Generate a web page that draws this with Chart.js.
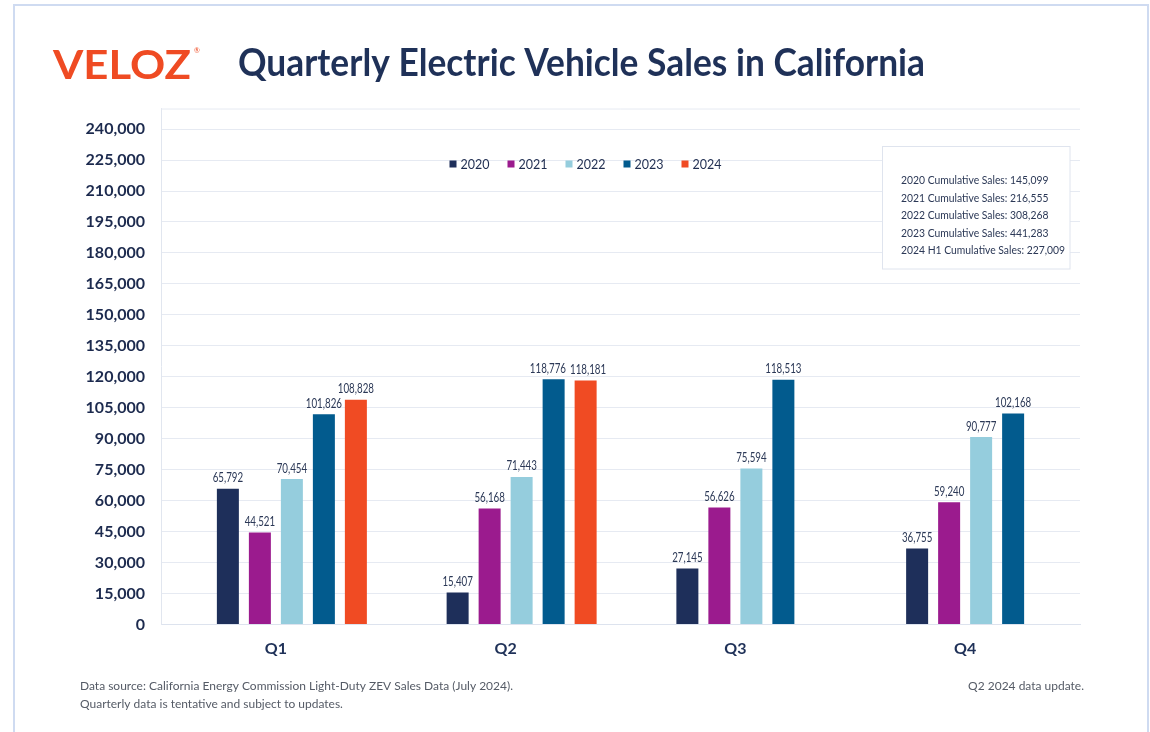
<!DOCTYPE html>
<html><head><meta charset="utf-8">
<script src="https://cdn.jsdelivr.net/npm/chart.js@4.4.1/dist/chart.umd.min.js"></script>
<style>
html,body{margin:0;padding:0;background:#fff;width:1150px;height:732px;overflow:hidden;}
#frame{position:absolute;left:13px;top:4px;width:1136px;height:780px;border:2px solid #cfdbf1;box-sizing:border-box;}
#c{position:absolute;left:0;top:0;}
</style></head><body>
<div id="frame"></div>
<canvas id="c" width="1150" height="732"></canvas>
<script>
// ---- data ----
const quarters = ['Q1', 'Q2', 'Q3', 'Q4'];
const years = ['2020', '2021', '2022', '2023', '2024'];
const sales2020 = [65792, 15407, 27145, 36755];
const sales2021 = [44521, 56168, 56626, 59240];
const sales2022 = [70454, 71443, 75594, 90777];
const sales2023 = [101826, 118776, 118513, 102168];
const sales2024 = [108828, 118181, null, null];
const yTicks = [0, 15000, 30000, 45000, 60000, 75000, 90000, 105000, 120000, 135000,
  150000, 165000, 180000, 195000, 210000, 225000, 240000];
const yScaleTop = 250000;
const cumulativeNotes = [
  '2020 Cumulative Sales: 145,099',
  '2021 Cumulative Sales: 216,555',
  '2022 Cumulative Sales: 308,268',
  '2023 Cumulative Sales: 441,283',
  '2024 H1 Cumulative Sales: 227,009'
];
const titleText = 'Quarterly Electric Vehicle Sales in California';
const logoText = 'VELOZ';
const footerLeft = [
  'Data source: California Energy Commission Light-Duty ZEV Sales Data (July 2024).',
  'Quarterly data is tentative and subject to updates.'
];
const footerRight = 'Q2 2024 data update.';

// ---- styles ----
const colors = ['#1e2f5a', '#9b1b8e', '#95cddd', '#025b8e', '#f04b23'];
const NAVY = '#1f3158';
const GRID = '#e6eaf2';
const barShift = 64 / 919; // group shifted right by half a slot
const LABEL_SX = 0.75;

const series = [sales2020, sales2021, sales2022, sales2023, sales2024];

function fitText(ctx, text, x, y, targetW, align) {
  const w = ctx.measureText(text).width;
  const sx = targetW / w;
  ctx.save();
  ctx.translate(x, y);
  ctx.scale(sx, 1);
  ctx.textAlign = align || 'left';
  ctx.fillText(text, 0, 0);
  ctx.restore();
  return sx;
}

const decor = {
  id: 'decor',
  beforeDatasetsDraw(chart) {
    const ctx = chart.ctx, a = chart.chartArea;
    ctx.save();
    ctx.strokeStyle = GRID; ctx.lineWidth = 1;
    ctx.beginPath(); ctx.moveTo(a.left, a.top + 0.5); ctx.lineTo(a.right, a.top + 0.5); ctx.stroke();
    ctx.restore();
  },
  afterDraw(chart) {
    const ctx = chart.ctx;
    ctx.save();
    // logo
    ctx.fillStyle = '#ef4b23';
    ctx.font = 'bold 41px Lato';
    ctx.textBaseline = 'alphabetic';
    fitText(ctx, logoText, 53, 78.5, 138, 'left');
    ctx.font = '7px Lato';
    ctx.fillText('®', 194, 53);
    // title
    ctx.fillStyle = NAVY;
    ctx.font = 'bold 38px Lato';
    fitText(ctx, titleText, 238, 76, 687, 'left');
    // footer
    ctx.fillStyle = '#555b66';
    ctx.font = '12px Lato';
    const s = ctx.measureText(footerLeft[0]).width;
    const sx = 433 / s;
    footerLeft.forEach((t, i) => {
      ctx.save(); ctx.translate(80, 690 + i * 17.5); ctx.scale(sx, 1); ctx.fillText(t, 0, 0); ctx.restore();
    });
    ctx.save(); ctx.translate(1084, 690); ctx.scale(sx, 1); ctx.textAlign = 'right'; ctx.fillText(footerRight, 0, 0); ctx.restore();
    ctx.restore();
  },
  afterDatasetsDraw(chart) {
    const ctx = chart.ctx;
    ctx.save();
    // value labels
    ctx.fillStyle = '#2b3856';
    ctx.font = '13px Lato';
    ctx.textBaseline = 'alphabetic';
    quarters.forEach((q, i) => {
      const labs = [];
      chart.data.datasets.forEach((ds, di) => {
        const v = ds.data[i].y;
        if (v == null) return;
        const el = chart.getDatasetMeta(di).data[i];
        const t = v.toLocaleString('en-US');
        labs.push({ t, x: el.x, y: el.y - 6.5, w: ctx.measureText(t).width * LABEL_SX });
      });
      // separate neighbouring labels that would collide
      for (let k = 1; k < labs.length; k++) {
        const a = labs[k - 1], b = labs[k];
        if (Math.abs(a.y - b.y) < 12) {
          const overlap = (a.x + a.w / 2) - (b.x - b.w / 2) + 4;
          if (overlap > 0) { a.x -= overlap * 0.7; b.x += overlap * 0.3; }
        }
      }
      labs.forEach(l => {
        ctx.save(); ctx.translate(l.x, l.y); ctx.scale(LABEL_SX, 1); ctx.textAlign = 'center'; ctx.fillText(l.t, 0, 0); ctx.restore();
      });
    });
    // legend
    ctx.font = '12.5px Lato';
    ctx.textBaseline = 'middle';
    const sq = 7, gap = 4, spacing = 18;
    const items = chart.data.datasets.map(d => ({ label: d.label, color: d.backgroundColor, w: ctx.measureText(d.label).width }));
    let total = items.reduce((acc, it) => acc + sq + gap + it.w, 0) + spacing * (items.length - 1);
    let x = 585.5 - total / 2;
    const ly = 164;
    items.forEach(it => {
      ctx.fillStyle = it.color;
      ctx.fillRect(x, ly - 3.5, sq, sq);
      ctx.fillStyle = '#1f2d50';
      ctx.textAlign = 'left';
      ctx.fillText(it.label, x + sq + gap, ly + 0.5);
      x += sq + gap + it.w + spacing;
    });
    // cumulative box
    ctx.fillStyle = '#ffffff';
    ctx.strokeStyle = '#dfe4ee';
    ctx.lineWidth = 1;
    ctx.fillRect(882.5, 146.5, 187.5, 122.5);
    ctx.strokeRect(882.5, 146.5, 187.5, 122.5);
    ctx.fillStyle = '#2b3856';
    ctx.font = '11px Lato';
    ctx.textBaseline = 'alphabetic';
    const bw = ctx.measureText(cumulativeNotes[4]).width;
    const bs = 164 / bw;
    cumulativeNotes.forEach((t, i) => {
      ctx.save(); ctx.translate(901, 184 + i * 17.5); ctx.scale(bs, 1); ctx.textAlign = 'left'; ctx.fillText(t, 0, 0); ctx.restore();
    });
    ctx.restore();
  }
};

const chart = new Chart(document.getElementById('c'), {
  type: 'bar',
  data: {
    labels: quarters,
    datasets: years.map((yr, k) => ({
      label: yr,
      data: quarters.map((q, i) => ({ x: i, y: series[k][i] })),
      backgroundColor: colors[k],
      borderWidth: 0,
      xAxisID: 'xb',
      yAxisID: 'y',
      categoryPercentage: 160 / 229.75,
      barPercentage: 22 / 32
    }))
  },
  options: {
    responsive: false,
    animation: false,
    devicePixelRatio: 1,
    events: [],
    layout: { padding: { top: 108.5, right: 70, bottom: 67.6, left: 0 } },
    plugins: { legend: { display: false }, tooltip: { enabled: false }, title: { display: false } },
    scales: {
      x: {
        type: 'category',
        labels: quarters,
        offset: true,
        grid: { display: false, drawTicks: false },
        border: { display: true, color: '#dde3ee' },
        ticks: { padding: 15, color: NAVY, font: { family: 'Lato', size: 16, weight: 'bold' } },
        afterFit: s => { s.height = 40; }
      },
      xb: {
        type: 'linear',
        display: false,
        offset: false,
        grid: { offset: false },
        min: -0.5 - barShift,
        max: 3.5 - barShift,
        afterBuildTicks: s => { s.ticks = quarters.map((q, i) => ({ value: i })); }
      },
      y: {
        min: 0,
        max: yScaleTop,
        afterBuildTicks: s => { s.ticks = yTicks.map(v => ({ value: v })); },
        ticks: {
          padding: 16,
          color: '#1c2a4e',
          font: { family: 'Lato', size: 16, weight: 'bold' },
          callback: v => Number(v).toLocaleString('en-US')
        },
        grid: { color: GRID, drawTicks: false },
        border: { display: true, color: '#e1e6ef' },
        afterFit: s => { s.width = 161; }
      }
    }
  },
  plugins: [decor]
});
</script>
</body></html>
